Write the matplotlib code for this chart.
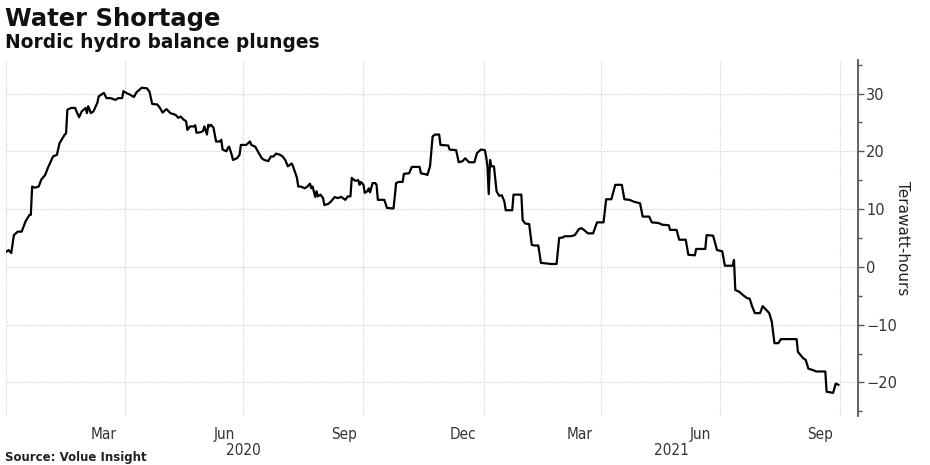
import pandas as pd
import matplotlib
matplotlib.use('Agg')
import matplotlib.pyplot as plt
import matplotlib.transforms as mtransforms
from matplotlib.ticker import MultipleLocator

# Nordic hydro balance, TWh
dates = [
    '2020-01-01', '2020-01-03', '2020-01-05', '2020-01-07', '2020-01-10', '2020-01-13',
    '2020-01-16', '2020-01-19', '2020-01-20', '2020-01-21', '2020-01-23', '2020-01-26',
    '2020-01-28', '2020-01-31', '2020-02-02', '2020-02-06', '2020-02-09', '2020-02-11',
    '2020-02-15', '2020-02-16', '2020-02-17', '2020-02-20', '2020-02-23', '2020-02-24',
    '2020-02-26', '2020-02-28', '2020-03-02', '2020-03-03', '2020-03-04', '2020-03-06',
    '2020-03-08', '2020-03-11', '2020-03-12', '2020-03-14', '2020-03-16', '2020-03-18',
    '2020-03-21', '2020-03-25', '2020-03-27', '2020-03-30', '2020-03-31', '2020-04-03',
    '2020-04-05', '2020-04-08', '2020-04-10', '2020-04-14', '2020-04-18', '2020-04-20',
    '2020-04-22', '2020-04-26', '2020-04-28', '2020-04-30', '2020-05-03', '2020-05-06',
    '2020-05-10', '2020-05-12', '2020-05-14', '2020-05-16', '2020-05-18', '2020-05-19',
    '2020-05-21', '2020-05-24', '2020-05-25', '2020-05-26', '2020-05-29', '2020-05-31',
    '2020-06-01', '2020-06-03', '2020-06-04', '2020-06-05', '2020-06-06', '2020-06-08',
    '2020-06-10', '2020-06-13', '2020-06-14', '2020-06-15', '2020-06-18', '2020-06-19',
    '2020-06-20', '2020-06-22', '2020-06-23', '2020-06-26', '2020-06-28', '2020-06-29',
    '2020-07-03', '2020-07-06', '2020-07-07', '2020-07-10', '2020-07-12', '2020-07-15',
    '2020-07-17', '2020-07-20', '2020-07-22', '2020-07-24', '2020-07-26', '2020-07-29',
    '2020-07-31', '2020-08-02', '2020-08-04', '2020-08-07', '2020-08-08', '2020-08-11',
    '2020-08-12', '2020-08-14', '2020-08-17', '2020-08-19', '2020-08-21', '2020-08-22',
    '2020-08-23', '2020-08-25', '2020-08-26', '2020-08-27', '2020-08-29', '2020-08-31',
    '2020-09-01', '2020-09-04', '2020-09-06', '2020-09-09', '2020-09-11', '2020-09-14',
    '2020-09-17', '2020-09-19', '2020-09-21', '2020-09-22', '2020-09-24', '2020-09-25',
    '2020-09-27', '2020-09-28', '2020-09-29', '2020-10-01', '2020-10-02', '2020-10-04',
    '2020-10-05', '2020-10-06', '2020-10-08', '2020-10-10', '2020-10-11', '2020-10-12',
    '2020-10-17', '2020-10-19', '2020-10-24', '2020-10-25', '2020-10-26', '2020-10-28',
    '2020-10-31', '2020-11-01', '2020-11-05', '2020-11-07', '2020-11-13', '2020-11-14',
    '2020-11-18', '2020-11-19', '2020-11-21', '2020-11-23', '2020-11-25', '2020-11-28',
    '2020-11-29', '2020-12-05', '2020-12-06', '2020-12-11', '2020-12-13', '2020-12-16',
    '2020-12-18', '2020-12-20', '2020-12-21', '2020-12-25', '2020-12-27', '2020-12-30',
    '2021-01-02', '2021-01-03', '2021-01-04', '2021-01-05', '2021-01-06', '2021-01-07',
    '2021-01-09', '2021-01-11', '2021-01-13', '2021-01-15', '2021-01-17', '2021-01-18',
    '2021-01-23', '2021-01-24', '2021-01-30', '2021-01-31', '2021-02-02', '2021-02-05',
    '2021-02-07', '2021-02-09', '2021-02-12', '2021-02-14', '2021-02-18', '2021-02-22',
    '2021-02-26', '2021-02-28', '2021-03-03', '2021-03-04', '2021-03-09', '2021-03-12',
    '2021-03-15', '2021-03-17', '2021-03-19', '2021-03-22', '2021-03-26', '2021-03-29',
    '2021-04-03', '2021-04-05', '2021-04-09', '2021-04-12', '2021-04-17', '2021-04-19',
    '2021-04-23', '2021-04-26', '2021-05-01', '2021-05-03', '2021-05-08', '2021-05-10',
    '2021-05-15', '2021-05-18', '2021-05-23', '2021-05-24', '2021-05-29', '2021-05-31',
    '2021-06-05', '2021-06-07', '2021-06-12', '2021-06-13', '2021-06-20', '2021-06-21',
    '2021-06-26', '2021-06-29', '2021-07-03', '2021-07-05', '2021-07-11', '2021-07-12',
    '2021-07-13', '2021-07-16', '2021-07-19', '2021-07-22', '2021-07-24', '2021-07-26',
    '2021-07-28', '2021-08-01', '2021-08-03', '2021-08-06', '2021-08-08', '2021-08-10',
    '2021-08-12', '2021-08-15', '2021-08-17', '2021-08-29', '2021-08-30', '2021-09-03',
    '2021-09-05', '2021-09-07', '2021-09-11', '2021-09-13', '2021-09-20', '2021-09-21',
    '2021-09-26', '2021-09-28', '2021-09-30',
]
balance = [
    2.6, 2.9, 2.4, 5.5, 6.1, 6.1,
    7.9, 9.0, 9.0, 13.9, 13.7, 13.9,
    15.1, 15.9, 17.1, 19.1, 19.4, 21.4,
    22.9, 23.1, 27.2, 27.5, 27.5, 26.9,
    25.9, 26.9, 27.5, 26.6, 27.8, 26.6,
    26.9, 28.4, 29.5, 29.8, 30.1, 29.2,
    29.2, 28.9, 29.2, 29.2, 30.4, 30.0,
    29.8, 29.4, 30.2, 31.0, 30.9, 30.3,
    28.2, 28.1, 27.5, 26.7, 27.3, 26.6,
    26.3, 25.8, 26.0, 25.5, 25.2, 23.7,
    24.3, 24.3, 24.5, 23.2, 23.3, 23.5,
    24.3, 22.9, 24.6, 24.3, 24.6, 24.1,
    21.7, 21.7, 22.0, 20.3, 20.0, 20.6,
    20.8, 19.4, 18.5, 18.8, 19.4, 21.1,
    21.1, 21.7, 21.1, 20.8, 20.0, 18.8,
    18.5, 18.3, 19.1, 19.1, 19.6, 19.4,
    19.1, 18.5, 17.4, 17.9, 17.4, 15.4,
    13.9, 13.9, 13.6, 13.9, 14.4, 13.6,
    13.9, 12.1, 13.1, 12.2, 12.5, 11.9,
    10.7, 10.9, 11.3, 12.1, 11.9, 12.1,
    11.6, 12.2, 12.2, 15.4, 15.0, 14.9,
    15.0, 14.2, 14.7, 14.2, 12.8, 13.1,
    13.6, 12.9, 14.5, 14.5, 14.2, 11.6,
    11.6, 10.2, 10.1, 12.2, 14.5, 14.7,
    14.7, 16.1, 16.2, 17.3, 17.3, 16.2,
    16.0, 15.9, 17.4, 22.6, 22.9, 22.9,
    21.1, 21.0, 20.3, 20.2, 18.1, 18.3,
    18.8, 18.3, 18.1, 18.1, 19.7, 20.3,
    20.2, 19.1, 17.4, 12.6, 18.5, 17.4,
    17.4, 13.1, 12.3, 12.4, 11.3, 9.8,
    9.8, 12.5, 12.5, 8.1, 7.5, 7.4,
    3.8, 3.7, 3.7, 0.7, 0.6, 0.5,
    0.5, 5.0, 5.1, 5.3, 5.3, 5.5,
    6.5, 6.7, 6.4, 5.8, 5.8, 7.7,
    7.7, 11.7, 11.7, 14.2, 14.2, 11.7,
    11.6, 11.3, 11.0, 8.7, 8.7, 7.7,
    7.6, 7.3, 7.2, 6.4, 6.4, 4.7,
    4.7, 2.1, 2.0, 3.1, 3.1, 5.5,
    5.4, 2.9, 2.7, 0.2, 0.2, 1.2,
    -4.0, -4.3, -4.9, -5.4, -5.5, -6.9,
    -8.0, -8.0, -6.8, -7.5, -8.0, -9.5,
    -13.2, -13.2, -12.5, -12.5, -14.7, -15.8,
    -16.1, -17.6, -17.9, -18.1, -18.1, -21.6,
    -21.8, -20.2, -20.4,
]

tick_dates = ['2020-03-16', '2020-06-16', '2020-09-16', '2020-12-16',
              '2021-03-16', '2021-06-16', '2021-09-16']
tick_labels = ['Mar', 'Jun', 'Sep', 'Dec', 'Mar', 'Jun', 'Sep']
grid_dates = ['2020-01-01', '2020-04-01', '2020-07-01', '2020-10-01',
              '2021-01-01', '2021-04-01', '2021-07-01', '2021-10-01']
year_dates = ['2020-07-01', '2021-05-25']
year_labels = ['2020', '2021']

narrow = dict(family='DejaVu Sans', stretch='condensed')

fig = plt.figure(figsize=(9.3, 4.65), dpi=100)
ax = fig.add_axes([0.0065, 0.1054, 0.916, 0.7656])

ax.plot(pd.to_datetime(dates), balance, color='black', lw=1.6)

ax.set_xlim(pd.Timestamp('2020-01-01'), pd.Timestamp('2021-10-15'))
ax.set_ylim(-25.8, 35.8)

# x axis: labels mid-month, grid at quarter starts
ax.set_xticks(pd.to_datetime(tick_dates))
ax.set_xticklabels(tick_labels, fontsize=11, color='#333333', **narrow)
ax.set_xticks(pd.to_datetime(grid_dates), minor=True)
ax.tick_params(axis='x', which='both', length=0, pad=8)
for d, lab in zip(year_dates, year_labels):
    ax.text(pd.Timestamp(d), -0.098, lab,
            transform=mtransforms.blended_transform_factory(ax.transData, ax.transAxes),
            ha='center', va='center', fontsize=11, color='#333333', **narrow)

# y axis on the right
ax.yaxis.tick_right()
ax.yaxis.set_major_locator(MultipleLocator(10))
ax.yaxis.set_minor_locator(MultipleLocator(5))
ax.tick_params(axis='y', which='major', length=4, width=1, color='#555555',
               labelsize=10.5, labelcolor='#333333', pad=2)
ax.tick_params(axis='y', which='minor', length=3, width=1, color='#555555')
ax.text(1.0528, 0.5, 'Terawatt-hours', transform=ax.transAxes, rotation=270,
        ha='center', va='center', fontsize=11, color='#222222')

for s in ['top', 'left', 'bottom']:
    ax.spines[s].set_visible(False)
ax.spines['right'].set_color('#555555')
ax.spines['right'].set_linewidth(1.3)

ax.grid(axis='y', which='major', color='#dddddd', lw=0.8, ls=(0, (2, 1)))
ax.grid(axis='x', which='minor', color='#dddddd', lw=0.8, ls=(0, (2, 1)))
ax.set_axisbelow(True)

fig.text(0.005, 0.985, 'Water Shortage', fontsize=17.5, fontweight='bold', va='top', color='#111111')
fig.text(0.005, 0.928, 'Nordic hydro balance plunges', fontsize=13.4, fontweight='bold', va='top', color='#111111')
fig.text(0.005, 0.003, 'Source: Volue Insight', fontsize=8.5, fontweight='bold', va='bottom', color='#222222')

fig.savefig('out.png', dpi=100)
